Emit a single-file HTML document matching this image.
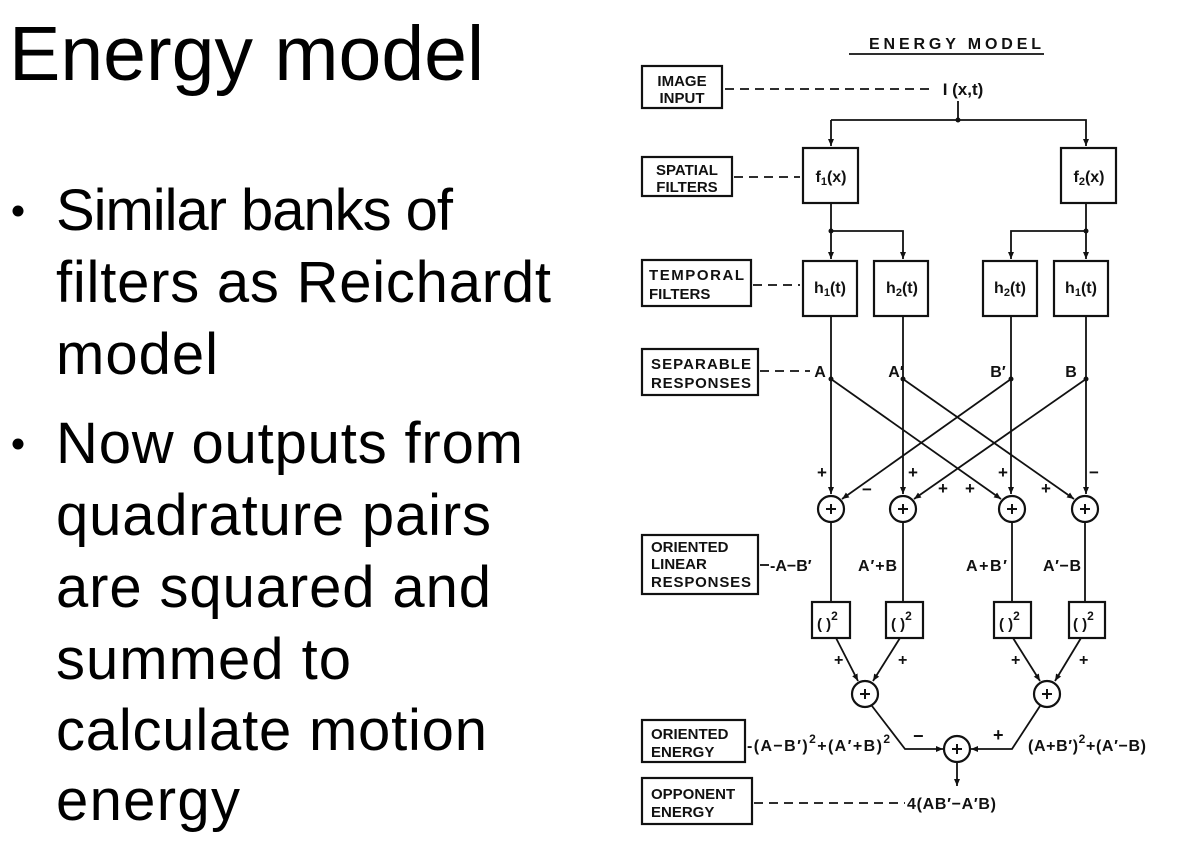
<!DOCTYPE html>
<html><head><meta charset="utf-8"><style>
html,body{margin:0;padding:0;background:#fff;}
svg{display:block;}
.l{font-family:"Liberation Sans",Arial,sans-serif;fill:#000;}
.d{font-family:"Liberation Sans",Arial,sans-serif;fill:#111;font-weight:bold;}
.b{fill:none;stroke:#111;stroke-width:2.2;}
.ln{fill:none;stroke:#111;stroke-width:1.8;}
.ds{fill:none;stroke:#111;stroke-width:1.8;stroke-dasharray:9,6;}
</style></head><body>
<svg width="1177" height="863" viewBox="0 0 1177 863" xmlns="http://www.w3.org/2000/svg">
<defs><marker id="a" markerWidth="8" markerHeight="8" refX="7" refY="4" orient="auto" markerUnits="userSpaceOnUse"><path d="M0,1 L7,4 L0,7 Z" fill="#111"/></marker></defs>
<text class="l" x="9" y="80" font-size="77">Energy model</text>
<circle cx="18" cy="211" r="5.5" fill="#000"/>
<circle cx="18" cy="444" r="5.5" fill="#000"/>
<g class="l" font-size="58">
<text x="56" y="230" textLength="397">Similar banks of</text>
<text x="56" y="302" textLength="495">filters as Reichardt</text>
<text x="56" y="374" textLength="162">model</text>
<text x="56" y="463" textLength="467">Now outputs from</text>
<text x="56" y="535" textLength="435">quadrature pairs</text>
<text x="56" y="607" textLength="435">are squared and</text>
<text x="56" y="679" textLength="295">summed to</text>
<text x="56" y="750" textLength="431">calculate motion</text>
<text x="56" y="820" textLength="184">energy</text>
</g>
<text class="d" x="869" y="49" font-size="16" textLength="172">ENERGY MODEL</text>
<line x1="849" y1="54" x2="1044" y2="54" class="ln"/>
<g class="b">
<rect x="642" y="66" width="80" height="42"/>
<rect x="642" y="157" width="90" height="39"/>
<rect x="642" y="260" width="109" height="46"/>
<rect x="642" y="349" width="116" height="46"/>
<rect x="642" y="535" width="116" height="59"/>
<rect x="642" y="720" width="103" height="42"/>
<rect x="642" y="778" width="110" height="46"/>
</g>
<g class="d" font-size="15">
<text x="682" y="86" text-anchor="middle">IMAGE</text><text x="682" y="103" text-anchor="middle">INPUT</text>
<text x="687" y="175" text-anchor="middle">SPATIAL</text><text x="687" y="192" text-anchor="middle">FILTERS</text>
<text x="649" y="280" textLength="95">TEMPORAL</text><text x="649" y="299">FILTERS</text>
<text x="651" y="369" textLength="100">SEPARABLE</text><text x="651" y="388" textLength="100">RESPONSES</text>
<text x="651" y="552">ORIENTED</text><text x="651" y="569">LINEAR</text><text x="651" y="587" textLength="100">RESPONSES</text>
<text x="651" y="739">ORIENTED</text><text x="651" y="757">ENERGY</text>
<text x="651" y="799">OPPONENT</text><text x="651" y="817">ENERGY</text>
</g>
<g class="ds">
<line x1="725" y1="89" x2="930" y2="89"/>
<line x1="734" y1="177" x2="800" y2="177"/>
<line x1="753" y1="285" x2="800" y2="285"/>
<line x1="760" y1="371" x2="810" y2="371"/>
<line x1="760" y1="565" x2="770" y2="565"/>
<line x1="754" y1="803" x2="905" y2="803"/>
</g>
<text class="d" x="963" y="95" font-size="17" text-anchor="middle">I (x,t)</text>
<g class="ln">
<line x1="958" y1="101" x2="958" y2="120"/>
<polyline points="831,120 1086,120 1086,146" marker-end="url(#a)"/>
<line x1="831" y1="120" x2="831" y2="146" marker-end="url(#a)"/>
<line x1="831" y1="203" x2="831" y2="259" marker-end="url(#a)"/>
<polyline points="831,231 903,231 903,259" marker-end="url(#a)"/>
<line x1="1086" y1="203" x2="1086" y2="259" marker-end="url(#a)"/>
<polyline points="1086,231 1011,231 1011,259" marker-end="url(#a)"/>
</g>
<circle cx="958" cy="120" r="2.5" fill="#111"/><circle cx="831" cy="231" r="2.5" fill="#111"/><circle cx="1086" cy="231" r="2.5" fill="#111"/>
<g class="b">
<rect x="803" y="148" width="55" height="55"/>
<rect x="1061" y="148" width="55" height="55"/>
<rect x="803" y="261" width="54" height="55"/>
<rect x="874" y="261" width="54" height="55"/>
<rect x="983" y="261" width="54" height="55"/>
<rect x="1054" y="261" width="54" height="55"/>
</g>
<g class="d" font-size="16" text-anchor="middle">
<text x="831" y="182">f<tspan font-size="11" dy="3">1</tspan><tspan dy="-3">(x)</tspan></text>
<text x="1089" y="182">f<tspan font-size="11" dy="3">2</tspan><tspan dy="-3">(x)</tspan></text>
<text x="830" y="293">h<tspan font-size="11" dy="3">1</tspan><tspan dy="-3">(t)</tspan></text>
<text x="902" y="293">h<tspan font-size="11" dy="3">2</tspan><tspan dy="-3">(t)</tspan></text>
<text x="1010" y="293">h<tspan font-size="11" dy="3">2</tspan><tspan dy="-3">(t)</tspan></text>
<text x="1081" y="293">h<tspan font-size="11" dy="3">1</tspan><tspan dy="-3">(t)</tspan></text>
<text x="820" y="377">A</text><text x="896" y="377">A′</text><text x="998" y="377">B′</text><text x="1071" y="377">B</text>
</g>
<g class="ln">
<line x1="831" y1="316" x2="831" y2="494" marker-end="url(#a)"/>
<line x1="903" y1="316" x2="903" y2="494" marker-end="url(#a)"/>
<line x1="1011" y1="316" x2="1011" y2="494" marker-end="url(#a)"/>
<line x1="1086" y1="316" x2="1086" y2="494" marker-end="url(#a)"/>
<line x1="831" y1="379" x2="1001" y2="499" marker-end="url(#a)"/>
<line x1="903" y1="379" x2="1074" y2="499" marker-end="url(#a)"/>
<line x1="1011" y1="379" x2="842" y2="499" marker-end="url(#a)"/>
<line x1="1086" y1="379" x2="914" y2="499" marker-end="url(#a)"/>
</g>
<g fill="#111"><circle cx="831" cy="379" r="2.5"/><circle cx="903" cy="379" r="2.5"/><circle cx="1011" cy="379" r="2.5"/><circle cx="1086" cy="379" r="2.5"/></g>
<g class="d" font-size="17" text-anchor="middle">
<text x="822" y="478">+</text><text x="913" y="478">+</text><text x="1003" y="478">+</text><text x="1094" y="478">−</text>
<text x="867" y="495">−</text><text x="943" y="494">+</text><text x="970" y="494">+</text><text x="1046" y="494">+</text>
</g>
<g class="b"><circle cx="831" cy="509" r="13"/><circle cx="903" cy="509" r="13"/><circle cx="1012" cy="509" r="13"/><circle cx="1085" cy="509" r="13"/>
<circle cx="865" cy="694" r="13"/><circle cx="1047" cy="694" r="13"/><circle cx="957" cy="749" r="13"/></g>
<g stroke="#111" stroke-width="2">
<path d="M826,509h10M831,504v10"/><path d="M898,509h10M903,504v10"/><path d="M1007,509h10M1012,504v10"/><path d="M1080,509h10M1085,504v10"/>
<path d="M860,694h10M865,689v10"/><path d="M1042,694h10M1047,689v10"/><path d="M952,749h10M957,744v10"/>
</g>
<g class="ln">
<line x1="831" y1="522" x2="831" y2="602"/><line x1="903" y1="522" x2="903" y2="602"/>
<line x1="1012" y1="522" x2="1012" y2="602"/><line x1="1085" y1="522" x2="1085" y2="602"/>
<line x1="836" y1="638" x2="858" y2="681" marker-end="url(#a)"/>
<line x1="900" y1="638" x2="873" y2="681" marker-end="url(#a)"/>
<line x1="1013" y1="638" x2="1040" y2="681" marker-end="url(#a)"/>
<line x1="1081" y1="638" x2="1055" y2="681" marker-end="url(#a)"/>
<polyline points="872,706 905,749 943,749" marker-end="url(#a)"/>
<polyline points="1040,706 1012,749 971,749" marker-end="url(#a)"/>
<line x1="957" y1="762" x2="957" y2="786" marker-end="url(#a)"/>
</g>
<g class="b"><rect x="812" y="602" width="38" height="36"/><rect x="886" y="602" width="37" height="36"/><rect x="994" y="602" width="37" height="36"/><rect x="1069" y="602" width="36" height="36"/></g>
<g class="d" font-size="15">
<text x="817" y="629">( )<tspan font-size="12" dy="-9">2</tspan></text>
<text x="891" y="629">( )<tspan font-size="12" dy="-9">2</tspan></text>
<text x="999" y="629">( )<tspan font-size="12" dy="-9">2</tspan></text>
<text x="1073" y="629">( )<tspan font-size="12" dy="-9">2</tspan></text>
<text x="770" y="571" font-size="16">-A−B′</text><text x="858" y="571" font-size="16" textLength="39">A′+B</text><text x="966" y="571" font-size="16" textLength="41">A+B′</text><text x="1043" y="571" font-size="16" textLength="38">A′−B</text>
<text x="834" y="665" font-size="16">+</text><text x="898" y="665" font-size="16">+</text><text x="1011" y="665" font-size="16">+</text><text x="1079" y="665" font-size="16">+</text>
<text x="913" y="742" font-size="18">−</text><text x="993" y="741" font-size="18">+</text>
<text x="747" y="751" font-size="16" textLength="143">-(A−B′)<tspan font-size="12" dy="-8">2</tspan><tspan dy="8">+(A′+B)</tspan><tspan font-size="12" dy="-8">2</tspan></text>
<text x="1028" y="751" font-size="16" textLength="118">(A+B′)<tspan font-size="12" dy="-8">2</tspan><tspan dy="8">+(A′−B)</tspan></text>
<text x="907" y="809" font-size="16" textLength="89">4(AB′−A′B)</text>
</g>
</svg>
</body></html>
